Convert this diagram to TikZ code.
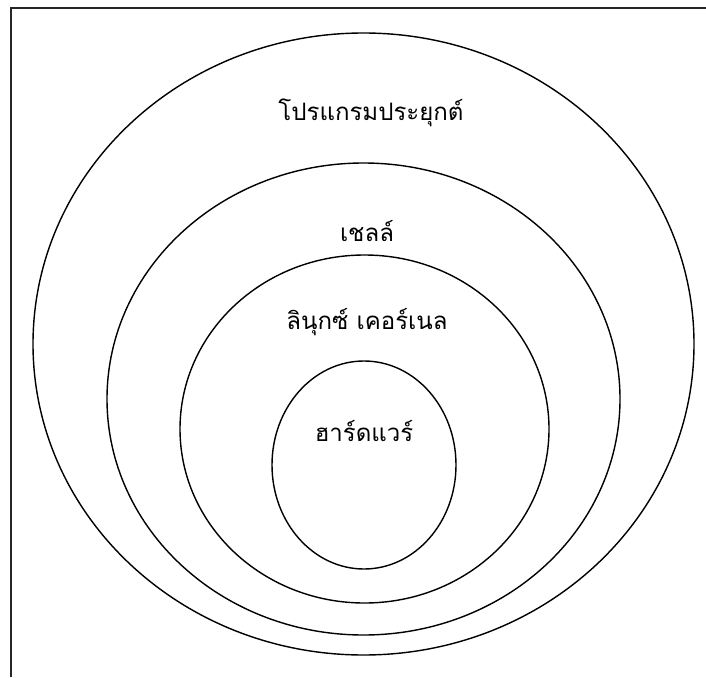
\documentclass[tikz,border=0pt]{standalone}
\usepackage{fontspec}
\newfontfamily\thaifont[Script=Thai]{Loma}
\begin{document}
\begin{tikzpicture}[x=0.03cm,y=-0.03cm,
	layer/.style={line width=1.2pt},
	label/.style={font=\thaifont\fontsize{20.5}{24}\selectfont,inner sep=0pt}]
	\useasboundingbox (0,0) rectangle (706,677);
	\draw [line width=1.8pt,black!85] (11,677) -- (11,8) -- (706,8);
	\draw [layer] (363.5,344) ellipse [x radius=330.5, y radius=311];
	\draw [layer] (363.5,399) ellipse [x radius=256.5, y radius=236];
	\draw [layer] (364.5,429) ellipse [x radius=184.5, y radius=174];
	\draw [layer] (364,465) ellipse [x radius=92, y radius=104];
	\node [label] (app) at (371,113) {โปรแกรมประยุกต์};
	\node [label] (shell) at (367,231) {เชลล์};
	\node [label] (kernel) at (367,322) {ลินุกซ์ เคอร์เนล};
	\node [label] (hw) at (364,431) {ฮาร์ดแวร์};
\end{tikzpicture}
\end{document}
